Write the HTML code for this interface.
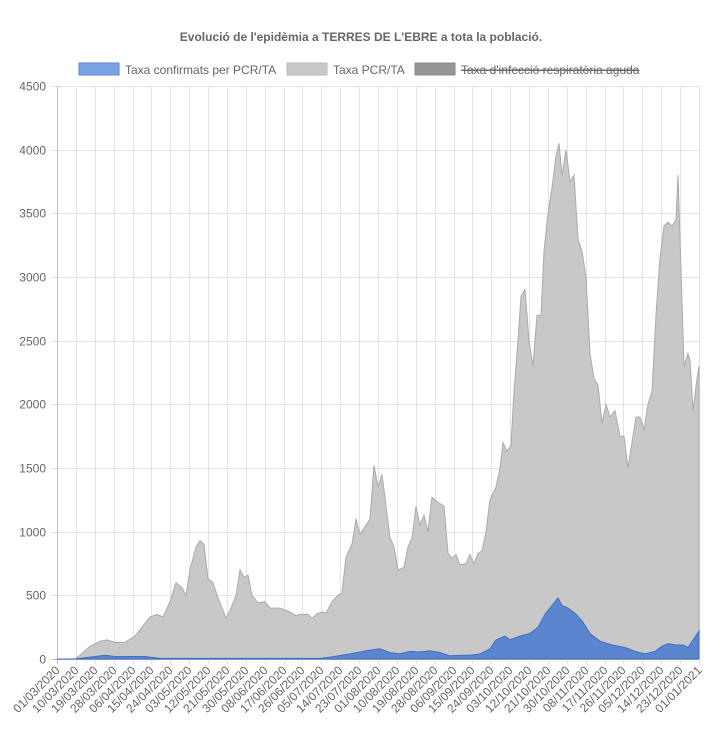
<!DOCTYPE html>
<html><head><meta charset="utf-8"><style>
body{margin:0;background:#fff;width:723px;height:742px;overflow:hidden;font-family:"Liberation Sans",Arial,sans-serif}
</style></head><body>
<svg id="s" width="723" height="742" xmlns="http://www.w3.org/2000/svg" font-family="Liberation Sans, Arial, sans-serif">
<text x="361" y="41" text-anchor="middle" font-size="12" font-weight="bold" fill="#666">Evolució de l'epidèmia a TERRES DE L'EBRE a tota la població.</text>
<rect x="79" y="63" width="40" height="12" fill="#7ba3e3" stroke="#5b86d6"/>
<text x="125" y="74" font-size="12" fill="#666">Taxa confirmats per PCR/TA</text>
<rect x="287" y="63" width="40" height="12" fill="#c8c8c8" stroke="#bbb"/>
<text x="333" y="74" font-size="12" fill="#666">Taxa PCR/TA</text>
<rect x="415" y="63" width="40" height="12" fill="#969696" stroke="#888"/>
<text x="461" y="74" font-size="12" fill="#666" text-decoration="line-through">Taxa d'infecció respiratòria aguda</text>
<line x1="461" y1="70" x2="638" y2="70" stroke="#666" stroke-width="1"/>
<g id="grid"></g>
<path id="gray" fill="#c8c8c8" stroke="#aaa" stroke-width="1"/>
<path id="blue" fill="#5b86cf" stroke="#3f6fc4" stroke-width="1"/>
<g id="lab"></g>
</svg>
<script>
var NS="http://www.w3.org/2000/svg",X0=57,X1=699,Y0=659,YT=86;
function y(v){return Y0-v*(Y0-YT)/4500}
var g=document.getElementById('grid'),lab=document.getElementById('lab');
function el(p,t,a){var e=document.createElementNS(NS,t);for(var k in a)e.setAttribute(k,a[k]);p.appendChild(e);return e}
for(var v=0;v<=4500;v+=500){var yy=Math.round(y(v))+.5;el(g,'line',{x1:X0-5,x2:X1,y1:yy,y2:yy,stroke:v==0?'#bbb':'#e3e3e3'});
var t=el(lab,'text',{x:46,y:yy+4,'text-anchor':'end','font-size':12,fill:'#666'});t.textContent=v;}
var dates=["01/03/2020","10/03/2020","19/03/2020","28/03/2020","06/04/2020","15/04/2020","24/04/2020","03/05/2020","12/05/2020","21/05/2020","30/05/2020","08/06/2020","17/06/2020","26/06/2020","05/07/2020","14/07/2020","23/07/2020","01/08/2020","10/08/2020","19/08/2020","28/08/2020","06/09/2020","15/09/2020","24/09/2020","03/10/2020","12/10/2020","21/10/2020","30/10/2020","08/11/2020","17/11/2020","26/11/2020","05/12/2020","14/12/2020","23/12/2020","01/01/2021"];
for(var i=0;i<dates.length;i++){var xx=Math.round(X0+i*(X1-X0)/34)+.5;
el(g,'line',{x1:xx,x2:xx,y1:YT,y2:Y0+5,stroke:i==0?'#bbb':'#e3e3e3'});
var t=el(lab,'text',{x:xx+3,y:Y0+12,'text-anchor':'end','font-size':12,fill:'#666',transform:'rotate(-45 '+(xx+3)+' '+(Y0+12)+')'});t.textContent=dates[i];}
var G=[57,0,75,0,80,30,90,100,100,140,107,150,115,130,125,130,135,180,142,250,150,330,157,350,163,330,170,450,176,600,182,560,186,500,190,700,196,880,200,930,204,900,208,630,213,600,218,480,223,380,226,320,230,380,236,500,240,700,244,640,248,660,252,500,258,440,265,450,270,400,280,400,290,370,296,340,300,350,308,350,312,320,318,360,323,370,326,360,332,450,338,500,342,520,346,800,352,900,356,1100,360,980,366,1050,370,1100,374,1520,378,1350,382,1450,386,1200,390,950,394,880,398,700,404,720,408,880,412,950,416,1200,420,1050,424,1130,428,1000,432,1270,438,1230,444,1200,448,830,452,790,456,820,460,740,466,750,470,820,474,750,478,830,482,850,486,1000,490,1250,496,1350,500,1500,503,1700,507,1630,511,1680,514,2100,518,2500,521,2850,525,2900,529,2500,533,2300,537,2700,541,2700,544,3200,548,3500,552,3700,556,3950,559,4050,562,3800,566,4000,570,3750,574,3800,578,3300,582,3200,586,3000,590,2400,594,2200,598,2150,602,1850,606,2000,610,1900,615,1950,620,1750,624,1750,628,1500,632,1700,636,1900,640,1900,644,1800,648,2000,652,2100,656,2700,660,3150,664,3400,668,3430,672,3400,676,3450,678,3800,680,3300,684,2300,688,2400,690,2350,693,1950,697,2200,699,2300];
var B=[57,0,75,0,90,15,105,30,115,20,130,20,145,20,160,5,320,5,330,15,350,40,370,70,380,80,390,50,400,40,410,60,420,55,430,65,440,50,450,25,460,30,470,30,480,40,490,80,496,150,505,180,510,150,520,180,530,200,538,250,545,350,552,420,558,480,562,420,568,400,575,360,582,300,590,200,600,140,612,110,625,90,635,60,645,40,655,60,662,100,668,120,676,110,683,110,688,90,694,160,699,220];
function path(a){var d='M'+a[0]+' '+Y0;for(var i=0;i<a.length;i+=2)d+=' L'+a[i]+' '+y(a[i+1]).toFixed(1);return d+' L'+a[a.length-2]+' '+Y0+' Z'}
document.getElementById('gray').setAttribute('d',path(G));
document.getElementById('blue').setAttribute('d',path(B));
</script>
</body></html>
